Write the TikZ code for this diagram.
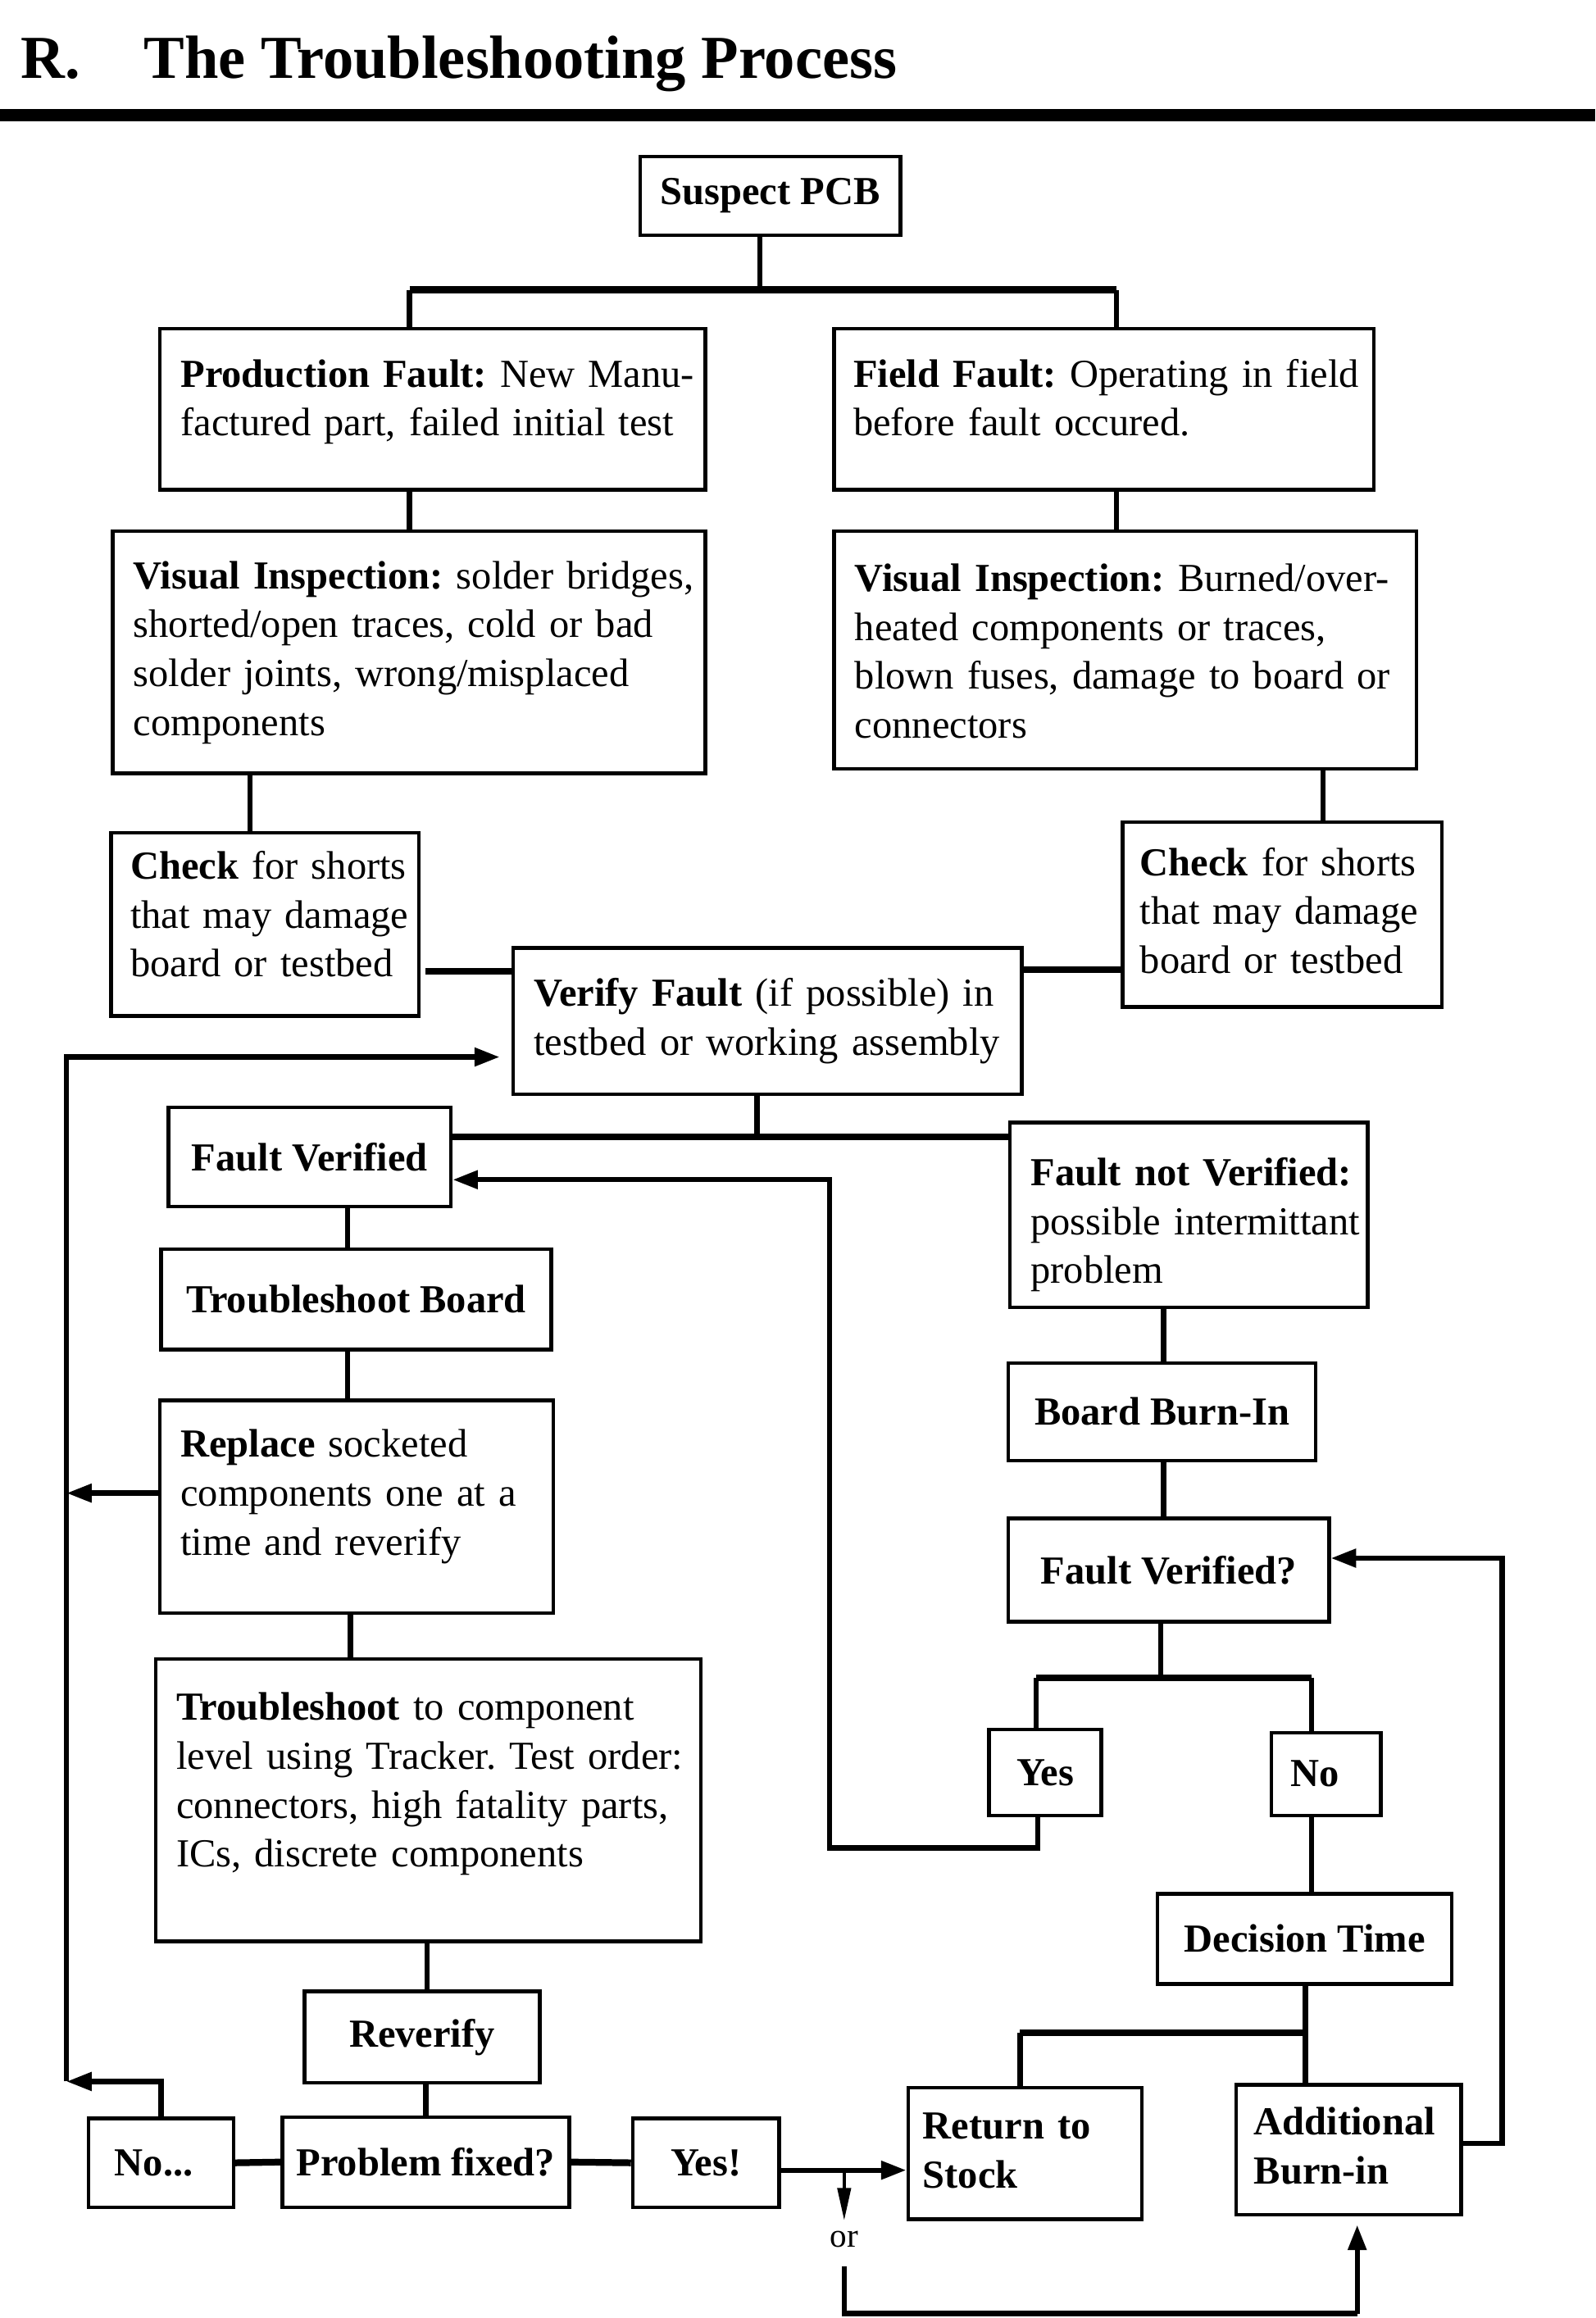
\documentclass[tikz,border=0pt]{standalone}
\usepackage{fontspec}
\setmainfont{Liberation Serif}
\usetikzlibrary{positioning,
                arrows.meta}                % arrow tips

\frenchspacing
\newcommand{\bodyfont}{\fontsize{15.3}{18.8}\selectfont}
\newcommand{\titlefont}{\fontsize{23.5}{27}\selectfont\bfseries}
\newcommand{\rows}[1]{\begin{tabular}{@{}l@{}}#1\end{tabular}}

\tikzset{
  box/.style={draw, line width=1.4pt, inner sep=0pt, font=\bodyfont},
  cbox/.style={box, font=\bodyfont\bfseries, align=center},
  lbox/.style={box, anchor=north west, align=left, inner xsep=0.28cm},
  link/.style={line width=2pt},
  bar/.style={line width=2.6pt},
  arr/.style={line width=2pt, -{Triangle[length=0.34cm, width=0.24cm]}},
  thinarr/.style={line width=1.2pt, -{Triangle[length=0.44cm, width=0.18cm]}},
}

\begin{document}
\begin{tikzpicture}[x=0.02cm, y=-0.02cm]
        \useasboundingbox (0,0) rectangle (1079,1568);

        % heading
        \node[anchor=base west, font=\titlefont, inner sep=0pt] (sec) at (14,53) {R.};
        \node[anchor=base west, font=\titlefont, inner sep=0pt] (title) at (97,53) {The Troubleshooting Process};
        \draw[line width=4.9pt] (0,78) -- (1079,78);

        % top of the tree
        \node[cbox, minimum width=3.52cm, minimum height=1.06cm] (suspect) at (521,132.5) {Suspect PCB};
        \node[lbox, text width=6.82cm, minimum height=2.18cm] (prod) at (107,221)
            {\rows{\textbf{Production Fault:} New Manu-\\factured part, failed initial test\\[0.2cm]}};
        \node[lbox, inner xsep=0.26cm, text width=6.78cm, minimum height=2.18cm] (field) at (563,221)
            {\rows{\textbf{Field Fault:} Operating in field\\before fault occured.\\[0.2cm]}};
        \node[lbox, text width=7.46cm, minimum height=3.28cm] (visL) at (75,358)
            {\rows{\textbf{Visual Inspection:} solder bridges,\\shorted/open traces, cold or bad\\solder joints, wrong/misplaced\\components}};
        \node[lbox, text width=7.32cm, minimum height=3.22cm] (visR) at (563,358)
            {\rows{\rule{0pt}{17pt}\textbf{Visual Inspection:} Burned/over-\\heated components or traces,\\blown fuses, damage to board or\\connectors}};
        \node[lbox, inner xsep=0.26cm, text width=3.64cm, minimum height=2.48cm] (checkL) at (74,562)
            {\rows{\textbf{Check} for shorts\\that may damage\\board or testbed\\[0.16cm]}};
        \node[lbox, inner xsep=0.24cm, text width=3.84cm, minimum height=2.50cm] (checkR) at (758,555)
            {\rows{\textbf{Check} for shorts\\that may damage\\board or testbed}};
        \node[lbox, text width=6.32cm, minimum height=1.98cm] (verify) at (346,640)
            {\rows{\textbf{Verify Fault} (if possible) in\\testbed or working assembly}};

        \draw[link] (514,0 |- suspect.south) -- (514,196);
        \draw[bar] (277,196) -- (755,196);
        \draw[link] (277,196) -- (277,0 |- prod.north);
        \draw[link] (755,196) -- (755,0 |- field.north);
        \draw[link] (277,0 |- prod.south) -- (277,0 |- visL.north);
        \draw[link] (755,0 |- field.south) -- (755,0 |- visR.north);
        \draw[link] (169,0 |- visL.south) -- (169,0 |- checkL.north);
        \draw[link] (895,0 |- visR.south) -- (895,0 |- checkR.north);
        \draw[bar] (288,657) -- (verify.west |- 0,657);
        \draw[bar] (verify.east |- 0,656) -- (checkR.west |- 0,656);

        % left branch
        \node[cbox, minimum width=3.82cm, minimum height=1.34cm] (fver) at (209.5,782.5) {Fault Verified};
        \node[cbox, minimum width=5.28cm, minimum height=1.36cm] (tsboard) at (241,879) {Troubleshoot Board};
        \node[lbox, text width=4.76cm, minimum height=2.88cm] (replace) at (107,946)
            {\rows{\textbf{Replace} socketed\\components one at a\\time and reverify\\[0.28cm]}};
        \node[lbox, text width=6.82cm, minimum height=3.82cm] (tscomp) at (104,1121)
            {\rows{\textbf{Troubleshoot} to component\\level using Tracker. Test order:\\connectors, high fatality parts,\\ICs, discrete components\\[0.44cm]}};
        \node[cbox, minimum width=3.18cm, minimum height=1.24cm] (reverify) at (285.5,1378) {Reverify};
        \node[cbox, minimum width=3.88cm, minimum height=1.22cm] (fixed) at (288,1462.5) {Problem fixed?};
        \node[cbox, minimum width=1.96cm, minimum height=1.20cm] (nodots) at (109,1463) {No...\hspace{0.2cm}};
        \node[cbox, minimum width=1.98cm, minimum height=1.20cm] (yesbang) at (477.5,1463) {Yes!};

        \draw[link] (512,0 |- verify.south) -- (512,769);
        \draw[bar] (fver.east |- 0,769) -- (682,769);
        \draw[link] (235,0 |- fver.south) -- (235,0 |- tsboard.north);
        \draw[link] (235,0 |- tsboard.south) -- (235,0 |- replace.north);
        \draw[link] (237,0 |- replace.south) -- (237,0 |- tscomp.north);
        \draw[link] (289,0 |- tscomp.south) -- (289,0 |- reverify.north);
        \draw[link] (288,0 |- reverify.south) -- (288,0 |- fixed.north);
        \draw[bar] (nodots.east) -- (fixed.west);
        \draw[bar] (fixed.east) -- (yesbang.west);
        \draw[arr] (replace.west |- 0,1010) -- (45,1010);
        \coordinate (loop) at (45,1408);
        \draw[arr] (109,0 |- nodots.north) |- (loop);
        \draw[arr] (loop) |- (338,715);

        % right branch
        \node[lbox, text width=4.28cm, minimum height=2.50cm] (notver) at (682,758)
            {\rows{\rule{0pt}{21pt}\textbf{Fault not Verified:}\\possible intermittant\\problem}};
        \node[cbox, minimum width=4.16cm, minimum height=1.32cm] (burnin) at (786,955) {Board Burn-In};
        \node[cbox, minimum width=4.34cm, minimum height=1.40cm] (fverq) at (790.5,1062) {Fault Verified?};
        \node[cbox, minimum width=1.52cm, minimum height=1.16cm] (yes) at (707,1199) {Yes};
        \node[cbox, minimum width=1.48cm, minimum height=1.12cm] (no) at (897,1200) {No\hspace{0.3cm}};
        \node[cbox, minimum width=3.98cm, minimum height=1.22cm] (decision) at (882.5,1311.5) {Decision Time};
        \node[lbox, font=\bodyfont\bfseries, inner xsep=0.2cm, text width=2.76cm, minimum height=1.78cm] (stock) at (613,1411)
            {\rows{Return to\\Stock}};
        \node[lbox, font=\bodyfont\bfseries, inner xsep=0.24cm, text width=2.56cm, minimum height=1.76cm] (addl) at (835,1409)
            {\rows{Additional\\Burn-in}};

        \draw[link] (787,0 |- notver.south) -- (787,0 |- burnin.north);
        \draw[link] (787,0 |- burnin.south) -- (787,0 |- fverq.north);
        \draw[link] (785,0 |- fverq.south) -- (785,1135);
        \draw[bar] (701,1135) -- (887,1135);
        \draw[link] (701,1135) -- (701,0 |- yes.north);
        \draw[link] (887,1135) -- (887,0 |- no.north);
        \draw[arr] (702,0 |- yes.south) |- (561,1250) |- (fver.east |- 0,798);
        \draw[link] (887,0 |- no.south) -- (887,0 |- decision.north);
        \draw[link] (883,0 |- decision.south) -- (883,0 |- addl.north);
        \draw[bar] (690,1375) -- (883,1375);
        \draw[link] (690,1375) -- (690,0 |- stock.north);
        \draw[arr] (addl.east |- 0,1450) -| (1016,1054) -- (fverq.east |- 0,1054);

        % way out
        \draw[arr] (yesbang.east |- 0,1468) -- (stock.west |- 0,1468);
        \draw[thinarr] (571,1468) -- (571,1502);
        \node[font=\fontsize{13}{15}\selectfont, inner sep=1pt] (or) at (571,1515) {or};
        \draw[link] (571,1533) |- (918,1565);
        \draw[arr] (918,1565) -- (918,1505);
\end{tikzpicture}
\end{document}
